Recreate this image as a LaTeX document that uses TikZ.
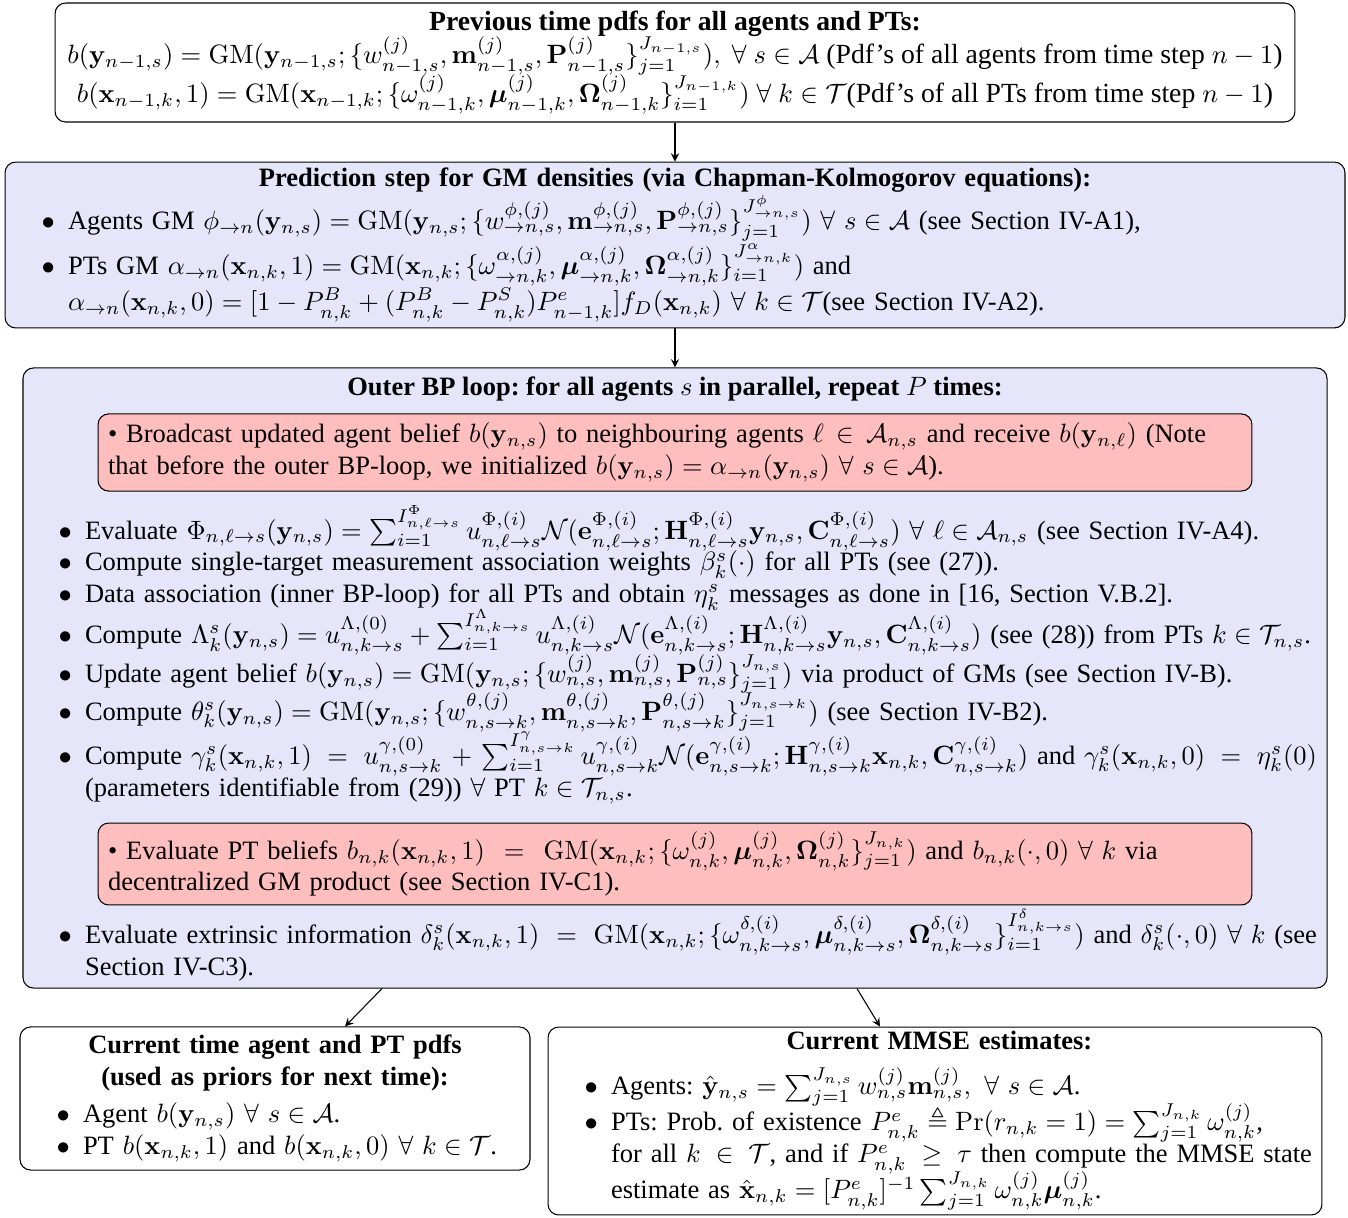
\documentclass[tikz,border=0pt]{standalone}
\usepackage{amsmath,amssymb}
\usepackage[no-math]{fontspec}
\setmainfont{Liberation Serif}
\usetikzlibrary{calc}

\definecolor{stepfill}{RGB}{230,230,250}
\definecolor{notefill}{RGB}{255,190,190}

% tight lists inside the boxes
\makeatletter
\setlength{\leftmargini}{20pt}
\def\@listi{\leftmargin\leftmargini \labelwidth\leftmargini
  \advance\labelwidth-\labelsep \topsep\z@ \partopsep\z@ \parsep\z@ \itemsep\z@}
\let\@listI\@listi
\def\mathjustify{\rightskip\z@\@rightskip\z@\relax}
\makeatother
\renewcommand{\labelitemi}{$\bullet$}
\frenchspacing
\hyphenpenalty=10000
\lineskip=0pt

\newcommand{\bfy}{\mathbf{y}}
\newcommand{\bfx}{\mathbf{x}}
\newcommand{\GM}{\mathrm{GM}}
\newcommand{\tightlines}[1]{\lineskip=#1\lineskiplimit=#1\relax}

\begin{document}
\begin{tikzpicture}[x=0.37736pt, y=-0.37736pt, >=stealth,
  box/.style={draw, rounded corners=4pt, inner sep=0pt},
  note/.style={box, fill=notefill, text width=427.9pt, inner xsep=3.77pt},
  plain/.style={inner sep=0pt, text width=484.9pt, anchor=north}]
  \useasboundingbox (0,0) rectangle (1348,1217);

  % previous time step
  \node[box, fill=white, minimum width=467.9pt, minimum height=44.9pt, align=center,
        font=\fontsize{10.45}{12.5}\selectfont] (prev) at (675,62.5)
    {\textbf{Previous time pdfs for all agents and PTs:}\\
     $b(\bfy_{n-1,s}) = \GM(\bfy_{n-1,s};\{w^{(j)}_{n-1,s},\mathbf{m}^{(j)}_{n-1,s},\mathbf{P}^{(j)}_{n-1,s}\}_{j=1}^{J_{n-1,s}}),\ \forall\ s\in\mathcal{A}$ (Pdf's of all agents from time step $n-1$)\\
     $b(\bfx_{n-1,k},1) = \GM(\bfx_{n-1,k};\{\omega^{(j)}_{n-1,k},\boldsymbol{\mu}^{(j)}_{n-1,k},\boldsymbol{\Omega}^{(j)}_{n-1,k}\}_{i=1}^{J_{n-1,k}})\ \forall\ k\in\mathcal{T}$(Pdf's of all PTs from time step $n-1$)};

  % prediction
  \node[box, fill=stepfill, text width=498.1pt, inner xsep=3.77pt, minimum height=62.6pt] (pred) at (675,245)
    {{\centering\textbf{Prediction step for GM densities (via Chapman-Kolmogorov equations):}\par}
     \begin{itemize}
     \item Agents GM $\phi_{\rightarrow n}(\bfy_{n,s}) = \GM(\bfy_{n,s};\{w^{\phi,(j)}_{\rightarrow n,s},\mathbf{m}^{\phi,(j)}_{\rightarrow n,s},\mathbf{P}^{\phi,(j)}_{\rightarrow n,s}\}_{j=1}^{J^{\phi}_{\rightarrow n,s}})\ \forall\ s\in\mathcal{A}$ (see Section IV-A1),
     \item PTs GM $\alpha_{\rightarrow n}(\bfx_{n,k},1) = \GM(\bfx_{n,k};\{\omega^{\alpha,(j)}_{\rightarrow n,k},\boldsymbol{\mu}^{\alpha,(j)}_{\rightarrow n,k},\boldsymbol{\Omega}^{\alpha,(j)}_{\rightarrow n,k}\}_{i=1}^{J^{\alpha}_{\rightarrow n,k}})$ and\newline
       $\alpha_{\rightarrow n}(\bfx_{n,k},0) = [1-P^B_{n,k}+(P^B_{n,k}-P^S_{n,k})P^e_{n-1,k}]f_D(\bfx_{n,k})\ \forall\ k\in\mathcal{T}$(see Section IV-A2).
     \end{itemize}};

  % outer BP loop
  \node[box, fill=stepfill, minimum width=492.1pt, minimum height=234pt] (loop) at (675,678) {};
  \node[anchor=base, inner sep=0pt] (looptitle) at (675,395)
    {\textbf{Outer BP loop: for all agents $s$ in parallel, repeat $P$ times:}};
  \node[note, minimum height=29.1pt] (bcast) at (675,452.5)
    {\rightskip=11.3pt\relax\textbullet\ Broadcast updated agent belief $b(\bfy_{n,s})$ to neighbouring agents $\ell\in\mathcal{A}_{n,s}$ and receive $b(\bfy_{n,\ell})$ (Note that before the outer BP-loop, we initialized $b(\bfy_{n,s})=\alpha_{\rightarrow n}(\bfy_{n,s})\ \forall\ s\in\mathcal{A}$).};
  \node[plain] (steps) at (674.5,505)
    {\tightlines{-0.2pt}\mathjustify
     \begin{itemize}
     \item Evaluate $\Phi_{n,\ell\rightarrow s}(\bfy_{n,s}) = \sum_{i=1}^{I^{\Phi}_{n,\ell\rightarrow s}} u^{\Phi,(i)}_{n,\ell\rightarrow s}\mathcal{N}(\mathbf{e}^{\Phi,(i)}_{n,\ell\rightarrow s};\mathbf{H}^{\Phi,(i)}_{n,\ell\rightarrow s}\bfy_{n,s},\mathbf{C}^{\Phi,(i)}_{n,\ell\rightarrow s})\ \forall\ \ell\in\mathcal{A}_{n,s}$ (see Section IV-A4).
     \item Compute single-target measurement association weights $\beta^s_k(\cdot)$ for all PTs (see (27)).
     \item Data association (inner BP-loop) for all PTs and obtain $\eta^s_k$ messages as done in [16, Section V.B.2].
     \item Compute $\Lambda^s_k(\bfy_{n,s}) = u^{\Lambda,(0)}_{n,k\rightarrow s}+\sum_{i=1}^{I^{\Lambda}_{n,k\rightarrow s}} u^{\Lambda,(i)}_{n,k\rightarrow s}\mathcal{N}(\mathbf{e}^{\Lambda,(i)}_{n,k\rightarrow s};\mathbf{H}^{\Lambda,(i)}_{n,k\rightarrow s}\bfy_{n,s},\mathbf{C}^{\Lambda,(i)}_{n,k\rightarrow s})$ (see (28)) from PTs $k\in\mathcal{T}_{n,s}$.
     \item Update agent belief $b(\bfy_{n,s}) = \GM(\bfy_{n,s};\{w^{(j)}_{n,s},\mathbf{m}^{(j)}_{n,s},\mathbf{P}^{(j)}_{n,s}\}_{j=1}^{J_{n,s}})$ via product of GMs (see Section IV-B).
     \item Compute $\theta^s_k(\bfy_{n,s}) = \GM(\bfy_{n,s};\{w^{\theta,(j)}_{n,s\rightarrow k},\mathbf{m}^{\theta,(j)}_{n,s\rightarrow k},\mathbf{P}^{\theta,(j)}_{n,s\rightarrow k}\}_{j=1}^{J_{n,s\rightarrow k}})$ (see Section IV-B2).
     \item Compute $\gamma^s_k(\bfx_{n,k},1) = u^{\gamma,(0)}_{n,s\rightarrow k}+\sum_{i=1}^{I^{\gamma}_{n,s\rightarrow k}} u^{\gamma,(i)}_{n,s\rightarrow k}\mathcal{N}(\mathbf{e}^{\gamma,(i)}_{n,s\rightarrow k};\mathbf{H}^{\gamma,(i)}_{n,s\rightarrow k}\bfx_{n,k},\mathbf{C}^{\gamma,(i)}_{n,s\rightarrow k})$ and $\gamma^s_k(\bfx_{n,k},0) = \eta^s_k(0)$ (parameters identifiable from (29)) $\forall$ PT $k\in\mathcal{T}_{n,s}$.
     \end{itemize}};
  \node[note, minimum height=30.9pt] (ptbelief) at (675,864)
    {\rightskip=30.9pt\relax\textbullet\ Evaluate PT beliefs $b_{n,k}(\bfx_{n,k},1) = \GM(\bfx_{n,k};\{\omega^{(j)}_{n,k},\boldsymbol{\mu}^{(j)}_{n,k},\boldsymbol{\Omega}^{(j)}_{n,k}\}_{j=1}^{J_{n,k}})$ and $b_{n,k}(\cdot,0)\ \forall\ k$ via decentralized GM product (see Section IV-C1).};
  \node[plain] (extrinsic) at (674.5,906)
    {\mathjustify
     \begin{itemize}
     \item Evaluate extrinsic information $\delta^s_k(\bfx_{n,k},1) = \GM(\bfx_{n,k};\{\omega^{\delta,(i)}_{n,k\rightarrow s},\boldsymbol{\mu}^{\delta,(i)}_{n,k\rightarrow s},\boldsymbol{\Omega}^{\delta,(i)}_{n,k\rightarrow s}\}_{i=1}^{I^{\delta}_{n,k\rightarrow s}})$ and $\delta^s_k(\cdot,0)\ \forall\ k$ (see Section IV-C3).
     \end{itemize}};

  % outputs
  \node[box, fill=white, text width=184.9pt, inner xsep=3.77pt, minimum height=54pt] (prior) at (275,1098.5)
    {{\centering\textbf{Current time agent and PT pdfs\\(used as priors for next time):}\par}
     \vspace{2pt}
     \begin{itemize}
     \item Agent $b(\bfy_{n,s})\ \forall\ s\in\mathcal{A}$.
     \item PT $b(\bfx_{n,k},1)$ and $b(\bfx_{n,k},0)\ \forall\ k\in\mathcal{T}$.
     \end{itemize}};
  \node[box, fill=white, text width=284.5pt, inner xsep=3.77pt, minimum height=70.9pt] (mmse) at (935,1121)
    {\vspace*{3pt}
     {\centering\textbf{Current MMSE estimates:}\par}
     \vspace{2pt}\mathjustify\tightlines{-1pt}
     \begin{itemize}
     \item Agents: $\hat{\bfy}_{n,s} = \sum_{j=1}^{J_{n,s}} w^{(j)}_{n,s}\mathbf{m}^{(j)}_{n,s},\ \forall\ s\in\mathcal{A}$.
     \item PTs: Prob. of existence $P^e_{n,k}\triangleq\Pr(r_{n,k}=1)=\sum_{j=1}^{J_{n,k}}\omega^{(j)}_{n,k}$,\newline
       for all $k\in\mathcal{T}$, and if $P^e_{n,k}\geq\tau$ then compute the MMSE state estimate as $\hat{\bfx}_{n,k} = [P^e_{n,k}]^{-1}\sum_{j=1}^{J_{n,k}}\omega^{(j)}_{n,k}\boldsymbol{\mu}^{(j)}_{n,k}$.
     \end{itemize}};

  % connectors
  \draw[->] (prev) -- (pred);
  \draw[->] (pred) -- (loop);
  \draw[->] ($(loop.south)+(-293,0)$) -- ($(prior.north)+(70,0)$);
  \draw[->] ($(loop.south)+(182,0)$) -- ($(mmse.north)+(-55,0)$);
\end{tikzpicture}
\end{document}
